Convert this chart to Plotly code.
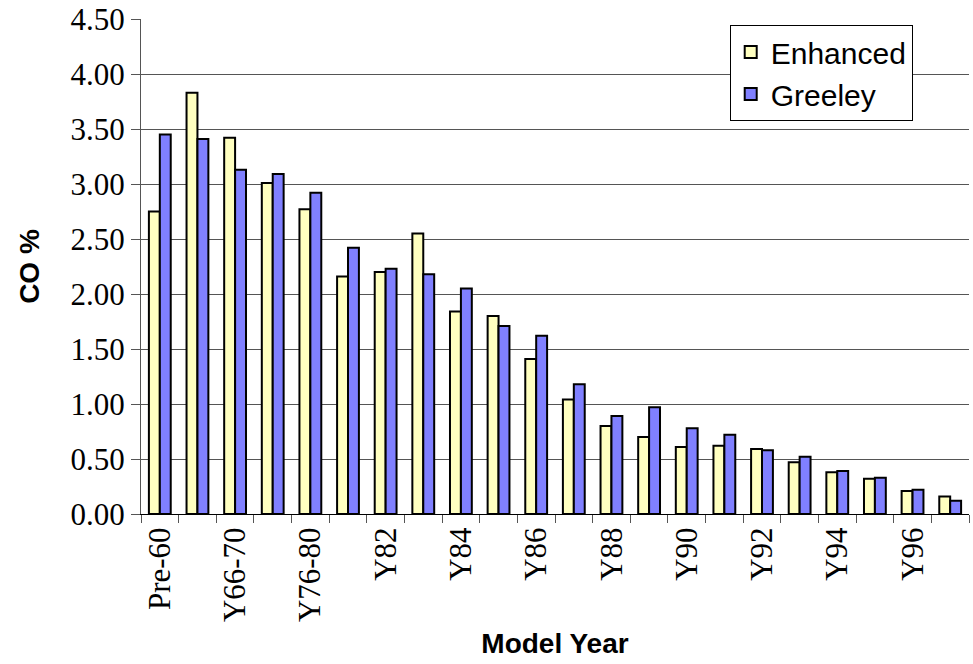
import plotly.graph_objects as go

categories = ["Pre-60", "Y61-65", "Y66-70", "Y71-75", "Y76-80", "Y81", "Y82", "Y83",
              "Y84", "Y85", "Y86", "Y87", "Y88", "Y89", "Y90", "Y91", "Y92", "Y93",
              "Y94", "Y95", "Y96", "Y97"]
enhanced = [2.75, 3.83, 3.42, 3.01, 2.77, 2.16, 2.20, 2.55, 1.84, 1.80, 1.41, 1.04,
            0.80, 0.70, 0.61, 0.62, 0.59, 0.47, 0.38, 0.32, 0.21, 0.16]
greeley = [3.45, 3.41, 3.13, 3.09, 2.92, 2.42, 2.23, 2.18, 2.05, 1.71, 1.62, 1.18,
           0.89, 0.97, 0.78, 0.72, 0.58, 0.52, 0.39, 0.33, 0.22, 0.12]
y_ticks = [0, 0.5, 1.0, 1.5, 2.0, 2.5, 3.0, 3.5, 4.0, 4.5]

fig = go.Figure()
fig.add_trace(go.Bar(x=categories, y=enhanced, name="Enhanced",
                     marker=dict(color="#FFFFC0", line=dict(color="black", width=2))))
fig.add_trace(go.Bar(x=categories, y=greeley, name="Greeley",
                     marker=dict(color="#8080FF", line=dict(color="black", width=2))))

fig.update_layout(
    width=973, height=664,
    margin=dict(l=141, r=4, t=19, b=150),
    plot_bgcolor="white", paper_bgcolor="white",
    barmode="group", bargap=0.42, bargroupgap=0,
    showlegend=True,
    legend=dict(x=0.711, y=0.988, xanchor="left", yanchor="top",
                bordercolor="black", borderwidth=1, bgcolor="white",
                font=dict(family="Liberation Sans", size=30, color="black"),
                itemwidth=30, tracegroupgap=0),
)
fig.update_xaxes(
    type="category", showline=True, linecolor="black", linewidth=1,
    ticks="outside", ticklen=8, tickcolor="#555", tickson="boundaries",
    dtick=1, ticklabelstep=2, tickangle=-90, automargin=False,
    tickfont=dict(family="Liberation Serif", size=31, color="black"),
    title=dict(text="<b>Model Year</b>", standoff=12,
               font=dict(family="Liberation Sans", size=28, color="black")),
    showgrid=False,
)
fig.update_yaxes(
    range=[0, 4.5], tickvals=y_ticks, tickformat=".2f", automargin=False,
    showline=True, linecolor="#555", linewidth=1,
    ticks="outside", ticklen=9, tickcolor="#555",
    showgrid=True, gridcolor="#555", gridwidth=1, zeroline=False,
    tickfont=dict(family="Liberation Serif", size=31, color="black"),
    title=dict(text="<b>CO %</b>", standoff=22,
               font=dict(family="Liberation Sans", size=28, color="black")),
)

# remove the browser's default 8px body margin so the figure fills the window exactly
fig.write_html("out.html", config={"displayModeBar": False},
               post_script="document.body.style.margin='0';")
